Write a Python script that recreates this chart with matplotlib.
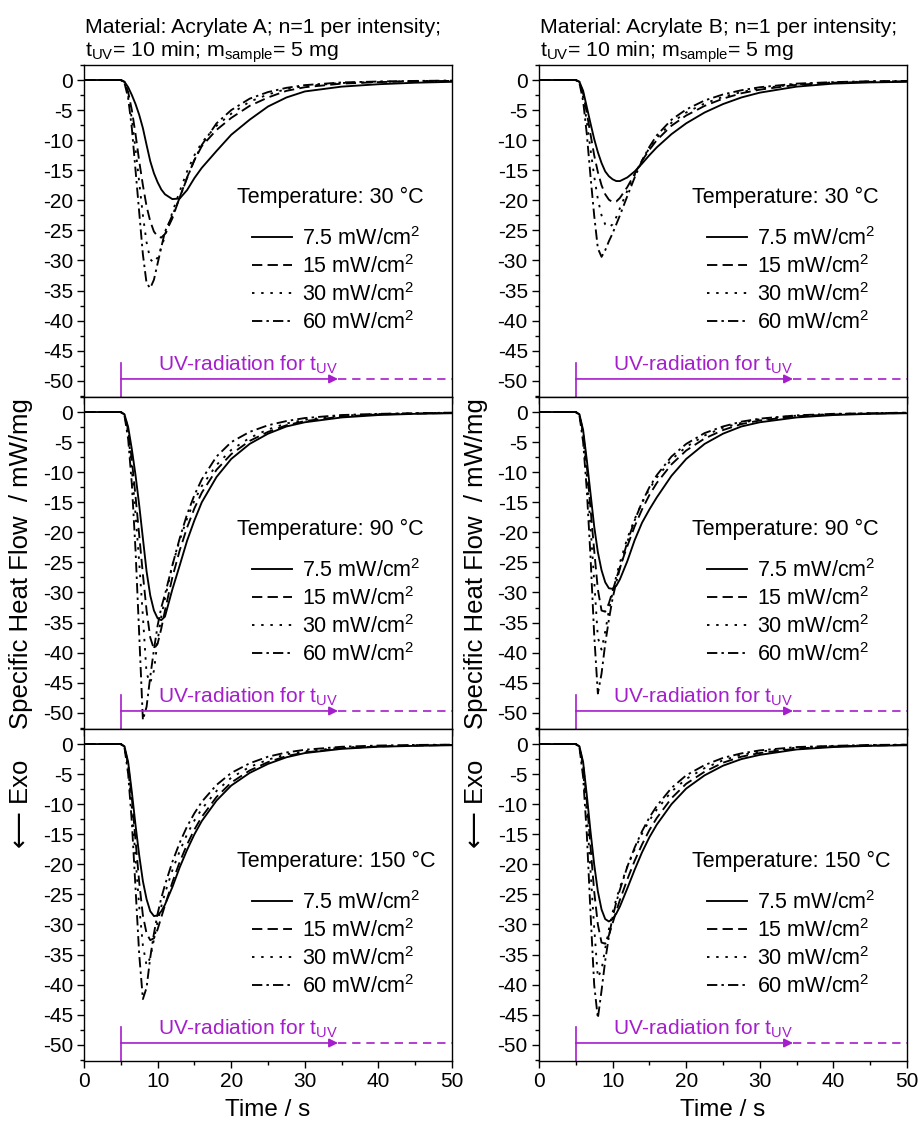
# Photo-DSC curves: specific heat flow vs time for two acrylates,
# three temperatures and four UV intensities.
import matplotlib
matplotlib.use('Agg')
import matplotlib.pyplot as plt
from matplotlib.lines import Line2D
from matplotlib.ticker import MultipleLocator

plt.rcParams['font.family'] = ['Liberation Sans', 'DejaVu Sans']
plt.rcParams['mathtext.fontset'] = 'custom'
plt.rcParams['mathtext.rm'] = 'Liberation Sans'
plt.rcParams['mathtext.it'] = 'Liberation Sans'
plt.rcParams['axes.unicode_minus'] = False

# -------------------- data --------------------
time_s = [0, 5, 5.5, 6, 6.5, 7, 7.5, 8, 8.5, 9, 9.5, 10, 10.5, 11,
          12, 13, 14, 15, 16, 18, 20, 22.5, 25, 27.5, 30, 35, 40, 45, 50]

intensities = ['7.5 mW/cm$^2$', '15 mW/cm$^2$', '30 mW/cm$^2$', '60 mW/cm$^2$']
temperatures = [30, 90, 150]
materials = ['Acrylate A', 'Acrylate B']

# Acrylate A
a30_75 = [0, 0, -0.3, -1.2, -2.5, -4.0, -5.8, -8.0, -10.8, -13.5, -15.5, -17.0, -18.2, -19.0,
          -19.8, -19.7, -18.3, -16.3, -14.6, -11.8, -9.1, -6.6, -4.4, -2.9, -1.9, -1.1, -0.7, -0.45, -0.3]
a30_15 = [0, 0, -0.3, -2.0, -5.0, -9.0, -13.5, -17.5, -21.0, -23.5, -25.2, -26.0, -26.2, -25.6,
          -23.0, -19.5, -16.2, -13.3, -11.0, -8.3, -6.3, -4.3, -2.9, -1.8, -1.2, -0.6, -0.35, -0.2, -0.15]
a30_30 = [0, 0, -0.4, -2.5, -6.5, -11.5, -17.0, -22.5, -27.0, -29.8, -30.4, -29.5, -27.8, -26.0,
          -22.0, -18.5, -15.2, -12.5, -10.4, -7.6, -5.6, -3.6, -2.4, -1.5, -1.0, -0.5, -0.3, -0.18, -0.12]
a30_60 = [0, 0, -0.5, -3.0, -8.0, -15.0, -22.0, -29.0, -33.8, -34.6, -33.2, -30.5, -27.8, -25.2,
          -22.5, -19.6, -16.3, -13.3, -10.8, -7.2, -5.0, -3.1, -2.0, -1.3, -0.85, -0.4, -0.25, -0.15, -0.1]

a90_75 = [0, 0, -0.4, -2.5, -6.2, -10.5, -15.5, -21.0, -26.5, -30.5, -33.0, -34.3, -34.6, -34.0,
          -29.5, -25.5, -21.4, -18.0, -15.0, -10.8, -7.8, -5.3, -3.6, -2.4, -1.7, -0.9, -0.5, -0.3, -0.2]
a90_15 = [0, 0, -0.4, -3.0, -8.0, -14.0, -20.5, -27.0, -33.0, -37.5, -39.4, -38.5, -36.0, -33.0,
          -27.5, -23.0, -19.2, -16.0, -13.4, -9.6, -7.0, -4.8, -3.3, -2.2, -1.5, -0.75, -0.4, -0.25, -0.15]
a90_30 = [0, 0, -0.5, -3.5, -9.5, -17.0, -25.0, -34.0, -43.5, -45.0, -43.0, -38.0, -34.0, -31.0,
          -25.5, -21.3, -17.7, -14.7, -12.3, -8.8, -6.3, -4.3, -2.9, -1.9, -1.3, -0.6, -0.35, -0.2, -0.12]
a90_60 = [0, 0, -0.6, -4.5, -12.0, -23.0, -37.0, -51.2, -49.0, -44.0, -39.5, -35.5, -32.5, -30.3,
          -25.5, -21.0, -17.0, -13.8, -11.2, -7.4, -5.0, -3.3, -2.2, -1.5, -1.0, -0.5, -0.3, -0.2, -0.1]

a150_75 = [0, 0, -0.4, -3.0, -8.0, -13.5, -18.5, -22.8, -25.8, -27.8, -28.6, -28.5, -27.8, -26.7,
           -23.8, -20.5, -17.6, -15.0, -12.8, -9.4, -6.9, -4.8, -3.3, -2.2, -1.5, -0.8, -0.45, -0.3, -0.2]
a150_15 = [0, 0, -0.4, -3.5, -9.0, -16.0, -23.0, -28.5, -31.5, -32.6, -32.3, -30.8, -28.8, -26.8,
           -23.0, -19.6, -16.7, -14.2, -12.1, -8.8, -6.4, -4.4, -3.0, -2.0, -1.4, -0.7, -0.4, -0.25, -0.15]
a150_30 = [0, 0, -0.5, -4.0, -10.5, -19.0, -27.0, -33.5, -36.8, -35.5, -32.5, -29.5, -27.0, -24.8,
           -21.0, -17.8, -15.0, -12.7, -10.8, -7.8, -5.6, -3.8, -2.6, -1.7, -1.2, -0.6, -0.35, -0.2, -0.12]
a150_60 = [0, 0, -0.6, -5.0, -13.0, -24.0, -35.0, -42.4, -40.5, -35.5, -31.5, -28.2, -25.6, -23.4,
           -19.6, -16.4, -13.7, -11.5, -9.6, -6.8, -4.8, -3.2, -2.1, -1.4, -0.95, -0.45, -0.25, -0.15, -0.1]

# Acrylate B
b30_75 = [0, 0, -0.3, -1.8, -4.5, -7.2, -9.8, -12.0, -13.8, -15.2, -16.0, -16.5, -16.8, -16.8,
          -16.2, -15.2, -13.9, -12.5, -11.2, -9.0, -7.2, -5.4, -4.0, -2.9, -2.1, -1.1, -0.6, -0.4, -0.3]
b30_15 = [0, 0, -0.3, -2.2, -5.5, -9.0, -12.5, -15.3, -17.5, -19.0, -19.9, -20.3, -20.2, -19.6,
          -17.8, -15.6, -13.4, -11.6, -10.0, -7.6, -5.9, -4.3, -3.1, -2.2, -1.6, -0.8, -0.45, -0.3, -0.2]
b30_30 = [0, 0, -0.4, -2.8, -7.0, -11.5, -16.0, -19.8, -22.5, -24.0, -24.5, -24.0, -22.8, -21.3,
          -18.4, -15.8, -13.4, -11.3, -9.6, -7.1, -5.4, -3.9, -2.8, -2.0, -1.4, -0.7, -0.4, -0.25, -0.2]
b30_60 = [0, 0, -0.5, -3.5, -9.0, -16.0, -22.5, -28.0, -29.4, -28.3, -26.8, -25.5, -24.0, -22.5,
          -19.3, -16.2, -13.4, -11.1, -9.2, -6.6, -4.9, -3.4, -2.4, -1.7, -1.2, -0.6, -0.35, -0.2, -0.15]

b90_75 = [0, 0, -0.4, -3.0, -8.0, -13.5, -19.0, -23.3, -26.3, -28.3, -29.3, -29.4, -28.9, -27.8,
          -24.8, -21.3, -18.4, -16.2, -14.2, -10.6, -7.8, -5.3, -3.6, -2.4, -1.7, -0.9, -0.5, -0.3, -0.2]
b90_15 = [0, 0, -0.4, -3.5, -9.0, -16.0, -23.0, -29.5, -33.0, -33.2, -31.8, -29.8, -27.7, -25.8,
          -22.3, -19.0, -16.2, -13.8, -11.8, -8.7, -6.4, -4.4, -3.0, -2.0, -1.4, -0.7, -0.4, -0.25, -0.15]
b90_30 = [0, 0, -0.5, -4.0, -10.5, -19.0, -28.0, -37.5, -39.5, -36.5, -33.0, -30.0, -27.3, -25.0,
          -21.0, -17.8, -15.1, -12.8, -10.9, -7.9, -5.8, -3.9, -2.6, -1.8, -1.2, -0.6, -0.35, -0.2, -0.12]
b90_60 = [0, 0, -0.6, -5.0, -13.0, -24.0, -37.0, -46.8, -43.5, -38.5, -34.5, -31.0, -28.3, -26.0,
          -21.6, -18.0, -15.0, -12.5, -10.5, -7.4, -5.3, -3.5, -2.4, -1.6, -1.1, -0.55, -0.3, -0.2, -0.1]

b150_75 = [0, 0, -0.4, -3.0, -8.5, -14.5, -20.0, -24.5, -27.5, -29.1, -29.5, -29.1, -28.2, -27.0,
           -24.0, -20.9, -18.0, -15.5, -13.4, -10.0, -7.4, -5.2, -3.6, -2.5, -1.8, -0.9, -0.5, -0.3, -0.2]
b150_15 = [0, 0, -0.4, -3.5, -9.5, -17.0, -24.5, -30.0, -33.0, -33.2, -31.8, -29.8, -27.8, -25.9,
           -22.5, -19.4, -16.7, -14.3, -12.3, -9.0, -6.6, -4.6, -3.1, -2.1, -1.5, -0.75, -0.4, -0.25, -0.15]
b150_30 = [0, 0, -0.5, -4.5, -11.5, -21.0, -30.5, -38.8, -37.5, -34.0, -30.8, -28.0, -25.8, -23.8,
           -20.4, -17.5, -14.9, -12.7, -10.9, -7.9, -5.8, -4.0, -2.7, -1.8, -1.25, -0.6, -0.35, -0.2, -0.12]
b150_60 = [0, 0, -0.6, -5.5, -15.0, -28.0, -40.0, -45.6, -41.0, -36.0, -32.0, -28.8, -26.3, -24.2,
           -20.4, -17.2, -14.5, -12.2, -10.3, -7.3, -5.2, -3.5, -2.3, -1.55, -1.05, -0.5, -0.3, -0.15, -0.1]

uv_start = 5     # s, start of irradiation
uv_arrow_end = 34.5

panels = {
    ('Acrylate A', 30): [a30_75, a30_15, a30_30, a30_60],
    ('Acrylate A', 90): [a90_75, a90_15, a90_30, a90_60],
    ('Acrylate A', 150): [a150_75, a150_15, a150_30, a150_60],
    ('Acrylate B', 30): [b30_75, b30_15, b30_30, b30_60],
    ('Acrylate B', 90): [b90_75, b90_15, b90_30, b90_60],
    ('Acrylate B', 150): [b150_75, b150_15, b150_30, b150_60],
}

# -------------------- styles --------------------
styles = ['-', (0, (5.5, 2.8)), (0, (1.3, 3.6)), (0, (5.5, 2.2, 1.3, 2.2))]
UV_COLOR = '#A51ECB'
FS = 15          # tick labels, UV note
FS_LEG = 15.5    # temperature + intensity list
YMIN, YMAX = -52.7, 2.5


def draw_panel(ax, curves, temp, bottom_row):
    for vals, ls in zip(curves, styles):
        ax.plot(time_s, vals, color='black', lw=1.35, ls=ls)

    ax.set_xlim(0, 50)
    ax.set_ylim(YMIN, YMAX)
    ax.xaxis.set_major_locator(MultipleLocator(10))
    ax.xaxis.set_minor_locator(MultipleLocator(5))
    ax.yaxis.set_major_locator(MultipleLocator(5))
    ax.yaxis.set_minor_locator(MultipleLocator(2.5))
    ax.tick_params(which='both', direction='out', labelsize=FS, width=1.0)
    ax.tick_params(which='major', length=5, pad=3)
    ax.tick_params(which='minor', length=3)
    ax.tick_params(labelbottom=bottom_row)
    for sp in ax.spines.values():
        sp.set_linewidth(1.0)

    # -------------------legend-like text block--------------------------
    ax.text(20.8, -19.5, f'Temperature: {temp} °C', fontsize=FS_LEG, va='center')
    handles = [Line2D([], [], color='black', lw=1.35, ls=ls) for ls in styles]
    ax.legend(handles, intensities, loc='upper left', bbox_to_anchor=(0.457, 0.513),
              frameon=False, fontsize=FS_LEG, handlelength=1.85, handletextpad=0.47,
              labelspacing=0.24, borderpad=0, borderaxespad=0)

    # -------------------UV irradiation marker--------------------------
    ax.plot([uv_start, uv_start], [-47.0, YMIN], color=UV_COLOR, lw=1.2, clip_on=False)
    ax.annotate('', xy=(uv_arrow_end, -49.7), xytext=(uv_start, -49.7),
                arrowprops=dict(arrowstyle='-|>', color=UV_COLOR, lw=1.2,
                                mutation_scale=13, shrinkA=0, shrinkB=0))
    ax.plot([uv_arrow_end, 50], [-49.7, -49.7], color=UV_COLOR, lw=1.2, ls=(0, (5, 3.5)))
    ax.text(10.0, -48.4, r'UV-radiation for t$_{\mathrm{UV}}$', color=UV_COLOR,
            fontsize=FS, va='baseline')


fig = plt.figure(figsize=(9.18, 11.32), dpi=100)

lefts = [0.0915, 0.5871]
width = 0.401
bottoms = [0.6493, 0.356, 0.0627]
height = 0.2933

for col, mat in enumerate(materials):
    for row, temp in enumerate(temperatures):
        ax = fig.add_axes([lefts[col], bottoms[row], width, height])
        draw_panel(ax, panels[(mat, temp)], temp, row == 2)
        if row == 0:
            ax.text(0.003, 1.0, f'Material: {mat}; n=1 per intensity;\n'
                    r't$_{\mathrm{UV}}$= 10 min; m$_{\mathrm{sample}}$= 5 mg',
                    transform=ax.transAxes, fontsize=15.3, va='bottom', ha='left',
                    linespacing=1.12)
        if row == 2:
            ax.set_xlabel('Time / s', fontsize=17.5, labelpad=6)

    # shared y labels for the column
    xl = lefts[col] - 0.069
    fig.text(xl, 0.502, 'Specific Heat Flow  / mW/mg', rotation=90, fontsize=18.5,
             ha='center', va='center')
    fig.text(xl, 0.290, '⟵ Exo', rotation=90, fontsize=18.5, ha='center', va='center')

fig.savefig('out.png', dpi=100)
